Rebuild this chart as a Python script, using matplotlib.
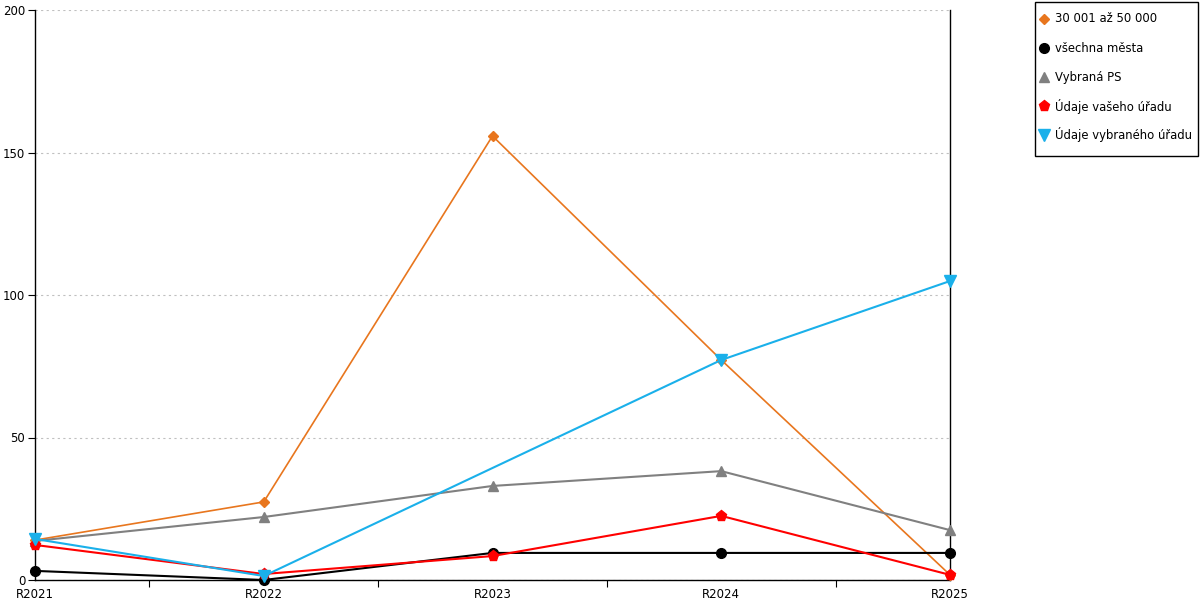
import numpy as np
import matplotlib.pyplot as plt
from matplotlib.ticker import FixedLocator
from matplotlib.patches import Rectangle

years = ['R2021', 'R2022', 'R2023', 'R2024', 'R2025']

skupina = [14.0, 27.4, 155.8, 77.2, 1.8]       # 30 001 až 50 000
vsechna = [3.2, 0.0, 9.5, 9.5, 9.5]            # všechna města
vybrana_ps = [13.7, 22.1, 33.0, 38.2, 17.5]
vas_urad = [12.3, 2.1, 8.4, 22.5, 1.8]
vybrany_urad = [14.4, 1.4, np.nan, 77.2, 104.9]

plt.rcParams['font.family'] = ['DejaVu Sans']

fig = plt.figure(figsize=(12, 6), dpi=100)
ax = fig.add_axes([35/1200, 20/600, 915/1200, 570/600])

x = np.arange(len(years))
series = []

def draw(vals, color, marker, label, lw=1.5, ms=7):
    v = np.array(vals, dtype=float)
    ok = ~np.isnan(v)
    ax.plot(x[ok], v[ok], color=color, lw=lw, marker=marker, ms=ms,
            clip_on=False, zorder=3)
    series.append((color, marker, ms, label))

draw(skupina, '#e8761e', 'D', '30 001 až 50 000', lw=1.2, ms=5)
draw(vsechna, '#000000', 'o', 'všechna města', ms=7)
draw(vybrana_ps, '#808080', '^', 'Vybraná PS', ms=7)
draw(vas_urad, '#ff0000', 'p', 'Údaje vašeho úřadu', ms=8)
draw(vybrany_urad, '#1ab0ea', 'v', 'Údaje vybraného úřadu', ms=8)

ax.set_xlim(0, 4)
ax.set_ylim(0, 200)
ax.set_yticks([0, 50, 100, 150, 200])
ax.set_xticks(x)
ax.set_xticklabels(years)
ax.xaxis.set_minor_locator(FixedLocator([0.5, 1.5, 2.5, 3.5]))
ax.tick_params(axis='x', which='major', length=0, pad=6, labelsize=8.5)
ax.tick_params(axis='x', which='minor', length=5, width=0.8)
ax.tick_params(axis='y', length=5, width=0.8, pad=2, labelsize=8.5)
ax.grid(axis='y', color='#c0c0c0', linestyle=(0, (2, 3)), lw=0.8)
ax.spines['top'].set_visible(False)
for s in ['left', 'right', 'bottom']:
    ax.spines[s].set_linewidth(1)
    ax.spines[s].set_color('black')

# legend box drawn by hand in pixel coordinates
lax = fig.add_axes([0, 0, 1, 1], zorder=5)
lax.set_xlim(0, 1200)
lax.set_ylim(600, 0)
lax.axis('off')
lax.add_patch(Rectangle((1034.5, 1.5), 163, 154, fill=False,
                        edgecolor='black', lw=1))
for i, (color, marker, ms, label) in enumerate(series):
    yy = 19 + 29 * i
    lax.plot([1044], [yy], marker=marker, color=color, ms=ms, ls='None')
    lax.text(1055, yy, label, fontsize=8.4, va='center', ha='left')

plt.savefig('out.png', dpi=100)
